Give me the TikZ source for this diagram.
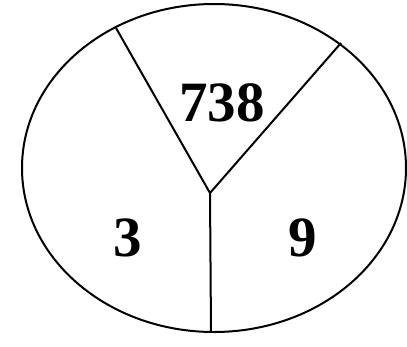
\documentclass[tikz,border=0pt]{standalone}
\usepackage{fontspec}
\setmainfont{Liberation Serif}
\begin{document}
\begin{tikzpicture}[x=1pt,y=-1pt,line width=2pt,every node/.style={font=\bfseries\fontsize{57}{60}\selectfont}]
				\useasboundingbox (0,0) rectangle (407,346);
				\draw (214,168) ellipse [x radius=192, y radius=164];
				\coordinate (mid) at (210,193);
				\coordinate (tl) at (116,28);
				\coordinate (tr) at (341,43);
				\coordinate (bot) at (211,332);
				\node (top) at (222,103) {738};
				\node (left) at (128,238) {3};
				\node (right) at (303,238) {9};
				\draw (tl) -- (mid) -- (tr);
				\draw (mid) -- (bot);
			\end{tikzpicture}
\end{document}
